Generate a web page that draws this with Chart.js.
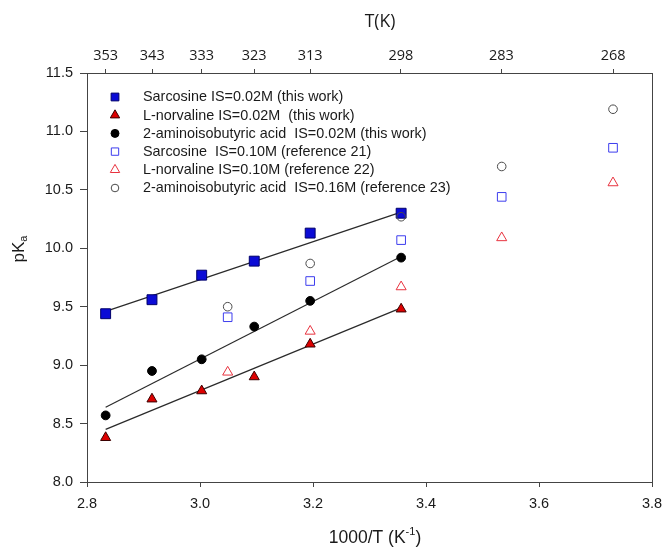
<!DOCTYPE html>
<html>
<head>
<meta charset="utf-8">
<script src="https://cdn.jsdelivr.net/npm/chart.js@4"></script>
<style>
  html, body { margin: 0; padding: 0; background: #fff; }
  #wrap { width: 665px; height: 548px; }
</style>
</head>
<body>
<div id="wrap"><canvas id="pkaChart" width="665" height="548"></canvas></div>
<script>
// values (x = 1000/T)
const invTWork = [2.833, 2.915, 3.003, 3.096, 3.195, 3.356];
const sarcWork = [9.44, 9.56, 9.77, 9.89, 10.13, 10.30];
const norvWork = [8.38, 8.71, 8.78, 8.90, 9.18, 9.48];
const aibWork = [8.57, 8.95, 9.05, 9.33, 9.55, 9.92];

const invTRef = [3.049, 3.195, 3.356, 3.534, 3.731];
const sarcRef = [9.41, 9.72, 10.07, 10.44, 10.86];
const norvRef = [8.94, 9.29, 9.67, 10.09, 10.56];
const aibRef = [9.50, 9.87, 10.27, 10.70, 11.19];

// regression lines, end points as drawn
const fitX = [2.833, 3.356];
const sarcFit = [9.46, 10.31];
const norvFit = [8.45, 9.49];
const aibFit = [8.64, 9.93];

// tick labels
const bottomTicks = [2.8, 3.0, 3.2, 3.4, 3.6, 3.8];
const leftTicks = [8.0, 8.5, 9.0, 9.5, 10.0, 10.5, 11.0, 11.5];
const topTicksK = [353, 343, 333, 323, 313, 298, 283, 268];

const AXIS = '#444';
const TXT = '#1a1a1a';
const SANS = '"Liberation Sans", Arial, sans-serif';

function pts(xs, ys) {
    return xs.map((x, i) => ({ x: x, y: ys[i] }));
}

function markers(label, xs, ys, style, radius, legendRadius, fill, edge, order) {
    return {
        label: label,
        data: pts(xs, ys),
        pointStyle: style,
        pointRadius: radius,
        pointHoverRadius: radius,
        pointBackgroundColor: fill,
        pointBorderColor: edge,
        pointBorderWidth: 1,
        showLine: false,
        order: order,
        inLegend: true,
        legendRadius: legendRadius
    };
}

function fitLine(ys) {
    return {
        label: '',
        data: pts(fitX, ys),
        showLine: true,
        borderColor: '#2a2a2a',
        borderWidth: 1.2,
        pointRadius: 0,
        order: 3,
        inLegend: false
    };
}

const datasets = [
    markers('Sarcosine IS=0.02M (this work)', invTWork, sarcWork, 'rect', 7, 5.5, '#0b0bd6', '#00006a', 2),
    markers('L-norvaline IS=0.02M  (this work)', invTWork, norvWork, 'triangle', 5.8, 5.4, '#dd0000', '#3a0000', 2),
    markers('2-aminoisobutyric acid  IS=0.02M (this work)', invTWork, aibWork, 'circle', 4.4, 4, '#000', '#000', 2),
    markers('Sarcosine  IS=0.10M (reference 21)', invTRef, sarcRef, 'rect', 6.1, 5.2, 'rgba(0,0,0,0)', '#3d3dee', 1),
    markers('L-norvaline IS=0.10M (reference 22)', invTRef, norvRef, 'triangle', 5.8, 5.4, 'rgba(0,0,0,0)', '#e8333f', 1),
    markers('2-aminoisobutyric acid  IS=0.16M (reference 23)', invTRef, aibRef, 'circle', 4.3, 3.8, 'rgba(0,0,0,0)', '#4a4a4a', 1),
    fitLine(sarcFit),
    fitLine(norvFit),
    fitLine(aibFit)
];

// legend inside the plot, axis titles and right frame edge
const decorations = {
    id: 'decorations',
    afterDraw(chart) {
        const ctx = chart.ctx;
        const area = chart.chartArea;
        ctx.save();

        // right edge of the frame
        ctx.strokeStyle = AXIS;
        ctx.lineWidth = 1;
        ctx.beginPath();
        ctx.moveTo(Math.round(area.right) + 0.5, area.top);
        ctx.lineTo(Math.round(area.right) + 0.5, area.bottom);
        ctx.stroke();

        // legend
        const rows = chart.data.datasets.filter(d => d.inLegend);
        ctx.textBaseline = 'middle';
        ctx.textAlign = 'left';
        rows.forEach((d, i) => {
            const y = 97 + i * 18.2;
            ctx.fillStyle = d.pointBackgroundColor;
            ctx.strokeStyle = d.pointBorderColor;
            ctx.lineWidth = 1;
            Chart.helpers.drawPoint(ctx, {
                pointStyle: d.pointStyle,
                radius: d.legendRadius,
                borderWidth: 1,
                rotation: 0
            }, 115, y);
            ctx.fillStyle = TXT;
            ctx.font = '14.4px ' + SANS;
            ctx.fillText(d.label, 143, y + 0.5);
        });

        // top title
        ctx.fillStyle = TXT;
        ctx.textAlign = 'center';
        ctx.font = '17.5px "Open Sans", sans-serif';
        ctx.fillText('T(K)', 380, 22);

        // bottom title with superscript
        const base = '1000/T (K';
        const sup = '-1';
        const tail = ')';
        ctx.font = '17.5px ' + SANS;
        const wBase = ctx.measureText(base).width;
        const wTail = ctx.measureText(tail).width;
        ctx.font = '11px ' + SANS;
        const wSup = ctx.measureText(sup).width;
        const x0 = 375 - (wBase + wSup + wTail) / 2;
        ctx.textAlign = 'left';
        ctx.font = '17.5px ' + SANS;
        ctx.fillText(base, x0, 538);
        ctx.font = '11px ' + SANS;
        ctx.fillText(sup, x0 + wBase, 532);
        ctx.font = '17.5px ' + SANS;
        ctx.fillText(tail, x0 + wBase + wSup, 538);

        // left title pKa, rotated
        ctx.translate(19, 249);
        ctx.rotate(-Math.PI / 2);
        ctx.font = '17px ' + SANS;
        const wP = ctx.measureText('pK').width;
        ctx.font = '11px ' + SANS;
        const wA = ctx.measureText('a').width;
        const px = -(wP + wA) / 2;
        ctx.font = '17px ' + SANS;
        ctx.fillText('pK', px, 0);
        ctx.font = '11px ' + SANS;
        ctx.fillText('a', px + wP, 5);

        ctx.restore();
    }
};

const gridStyle = {
    display: true,
    drawOnChartArea: false,
    drawTicks: true,
    color: AXIS,
    lineWidth: 1
};

// fixed box sizes so the plot area sits where it does in the figure
function fixBox(size) {
    return s => {
        if (s.isHorizontal()) s.height = size; else s.width = size;
        s.paddingLeft = 0;
        s.paddingRight = 0;
        s.paddingTop = 0;
        s.paddingBottom = 0;
    };
}

new Chart(document.getElementById('pkaChart').getContext('2d'), {
    type: 'scatter',
    data: { datasets: datasets },
    options: {
        responsive: false,
        animation: false,
        layout: { padding: { left: 0, right: 13, top: 0, bottom: 0 } },
        plugins: {
            legend: { display: false },
            tooltip: { enabled: false }
        },
        scales: {
            x: {
                type: 'linear',
                position: 'bottom',
                min: 2.8,
                max: 3.8,
                afterBuildTicks: s => { s.ticks = bottomTicks.map(v => ({ value: v })); },
                afterFit: fixBox(66),
                ticks: {
                    callback: v => Number(v).toFixed(1),
                    font: { family: SANS, size: 14.5 },
                    color: TXT,
                    padding: 8,
                    maxRotation: 0,
                    autoSkip: false
                },
                grid: Object.assign({ tickLength: 5 }, gridStyle),
                border: { display: true, color: AXIS, width: 1 }
            },
            xTop: {
                type: 'linear',
                position: 'top',
                min: 2.8,
                max: 3.8,
                afterBuildTicks: s => { s.ticks = topTicksK.map(t => ({ value: 1000 / t })); },
                afterFit: fixBox(73),
                ticks: {
                    callback: v => String(Math.round(1000 / v)),
                    font: { family: '"Open Sans", sans-serif', size: 14.5 },
                    color: TXT,
                    padding: 4,
                    maxRotation: 0,
                    autoSkip: false
                },
                grid: Object.assign({ tickLength: 4 }, gridStyle),
                border: { display: true, color: AXIS, width: 1 }
            },
            y: {
                type: 'linear',
                min: 8,
                max: 11.5,
                afterBuildTicks: s => { s.ticks = leftTicks.map(v => ({ value: v })); },
                afterFit: fixBox(87),
                ticks: {
                    callback: v => Number(v).toFixed(1),
                    font: { family: SANS, size: 14.5 },
                    color: TXT,
                    padding: 7,
                    autoSkip: false
                },
                grid: Object.assign({ tickLength: 7 }, gridStyle),
                border: { display: true, color: AXIS, width: 1 }
            }
        }
    },
    plugins: [decorations]
});
</script>
</body>
</html>
